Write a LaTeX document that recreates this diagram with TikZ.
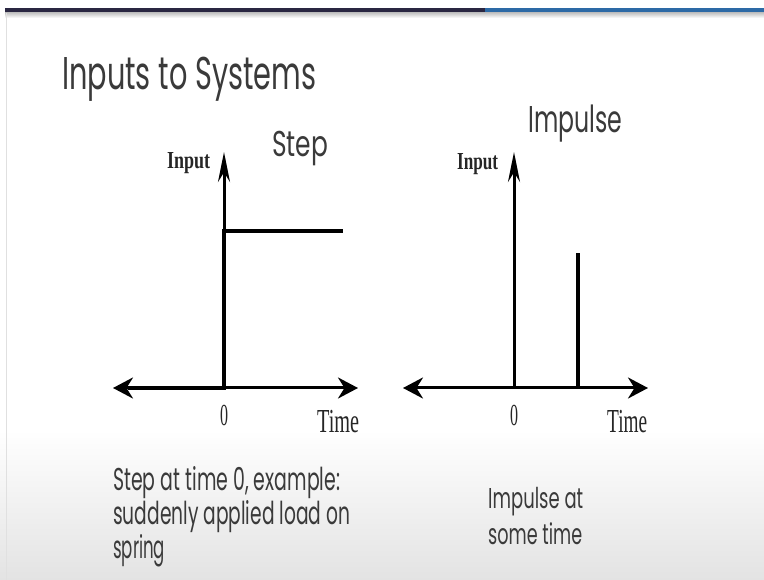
\documentclass[tikz,border=0pt]{standalone}
\usepackage{fontspec}
\setmainfont{Poppins}
\newfontfamily\tms{Liberation Serif}
\usepackage{graphicx}
\usetikzlibrary{arrows.meta}
\definecolor{bardark}{HTML}{2A2742}
\definecolor{barblue}{HTML}{2D6AA6}
\definecolor{txtgray}{HTML}{3A3A3A}
\definecolor{lblgray}{HTML}{262626}
\newsavebox\fitTxt
\newsavebox\fitCap
\newcommand\fitbox[3]{\sbox\fitTxt{#3}\sbox\fitCap{I}%
  \pgfmathsetmacro\fitsx{#1/\the\wd\fitTxt}%
  \pgfmathsetmacro\fitsy{#2/\the\ht\fitCap}%
  \scalebox{\fitsx}[\fitsy]{\usebox\fitTxt}}
\tikzset{
  slidetxt/.style={anchor=base west, inner sep=0pt, text=txtgray},
  axislbl/.style={anchor=base west, inner sep=0pt, text=lblgray, font=\tms},
  inputlbl/.style={axislbl, font=\tms\bfseries},
  axisline/.style={line width=3pt, black},
  stepline/.style={line width=4.5pt, black, line join=miter},
  impline/.style={line width=3.2pt, black},
  vtip/.tip={Stealth[length=30pt,width=12pt]},
  htip/.tip={Stealth[length=20pt,width=21pt]}
}
\begin{document}
\begin{tikzpicture}[x=1pt,y=-1pt]
\useasboundingbox (0,0) rectangle (764,580);
\fill[white] (0,0) rectangle (764,580);
\shade[top color=white, bottom color=black!11] (0,430) rectangle (764,580);
% top bar
\fill[bardark] (5,8) rectangle (485,13);
\fill[barblue] (485,8) rectangle (764,13);
\shade[top color=black!22, bottom color=white] (5,13) rectangle (764,18);
\draw[black!12, line width=0.8pt] (6,13) -- (6,580);
% title
\node[slidetxt] (title) at (62,90) {\fitbox{254pt}{32pt}{Inputs to Systems}};
% ---- Step chart
\coordinate (s0) at (224,388);
\coordinate (sup) at (224,152);
\coordinate (sl) at (113,388);
\coordinate (sr) at (358,388);
\coordinate (sa) at (128,388);
\coordinate (sc) at (224,231);
\coordinate (sd) at (343,231);
\draw[axisline,-vtip] (s0) -- (sup);
\draw[axisline,htip-htip] (sl) -- (sr);
\draw[stepline] (sa) -- (s0) -- (sc) -- (sd);
\node[slidetxt] (steplbl) at (272,157) {\fitbox{56pt}{25pt}{Step}};
\node[inputlbl] (sinput) at (167,169) {\fitbox{43pt}{16pt}{Input}};
\node[axislbl] (szero) at (220,425) {\fitbox{8pt}{20pt}{0}};
\node[axislbl] (stime) at (317,432) {\fitbox{42pt}{22pt}{Time}};
% ---- Impulse chart
\coordinate (i0) at (514,388);
\coordinate (iup) at (514,152);
\coordinate (il) at (403,388);
\coordinate (ir) at (648,388);
\coordinate (ib) at (578,388);
\coordinate (it) at (578,253);
\draw[axisline,-vtip] (i0) -- (iup);
\draw[axisline,htip-htip] (il) -- (ir);
\draw[impline] (ib) -- (it);
\node[slidetxt] (implbl) at (528,133) {\fitbox{94pt}{26pt}{Impulse}};
\node[inputlbl] (iinput) at (457,170) {\fitbox{41pt}{16pt}{Input}};
\node[axislbl] (izero) at (510,425) {\fitbox{8pt}{20pt}{0}};
\node[axislbl] (itime) at (607,432) {\fitbox{40pt}{22pt}{Time}};
% ---- captions
\node[slidetxt] (cap1) at (113,490) {\fitbox{227pt}{22pt}{Step at time 0, example:}};
\node[slidetxt] (cap2) at (113,524) {\fitbox{237pt}{22pt}{suddenly applied load on}};
\node[slidetxt] (cap3) at (113,558) {\fitbox{52pt}{22pt}{spring}};
\node[slidetxt] (cap4) at (488,508) {\fitbox{95pt}{20pt}{Impulse at}};
\node[slidetxt] (cap5) at (488,544) {\fitbox{94pt}{20pt}{some time}};
\end{tikzpicture}
\end{document}
